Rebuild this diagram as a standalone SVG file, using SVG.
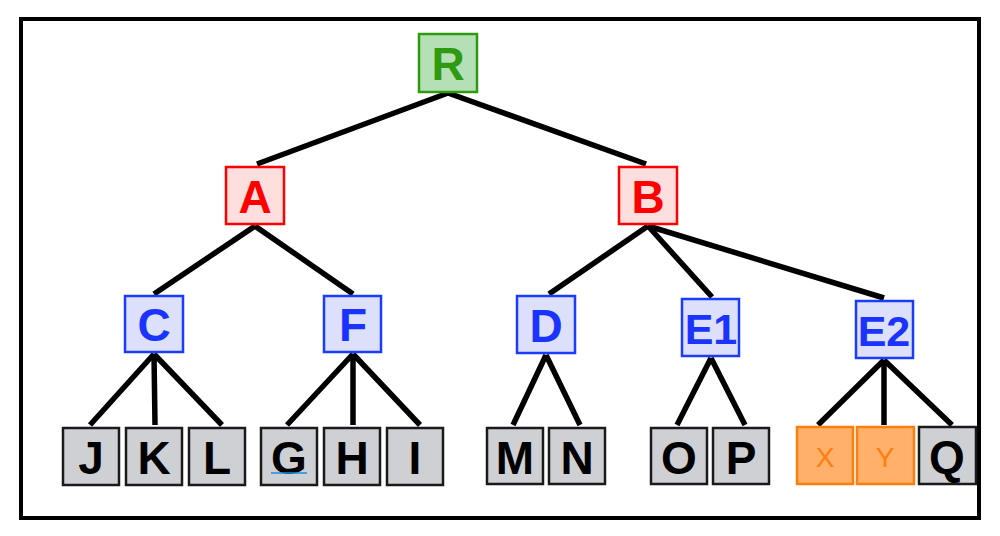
<svg xmlns="http://www.w3.org/2000/svg" width="1000" height="536" viewBox="0 0 1000 536">
<style>
.frame{fill:#fff;stroke:#000;stroke-width:4}
.edge{stroke:#000;stroke-width:5.5;stroke-linecap:butt}
text{font-family:"Liberation Sans",Arial,sans-serif;font-weight:bold;font-size:46px;text-anchor:middle;dominant-baseline:central}
.g rect{fill:#b5e0b5;stroke:#2e9a10;stroke-width:2.5}
.g text{fill:#2e9a10}
.r rect{fill:#ffdede;stroke:#ff0000;stroke-width:2.5}
.r text{fill:#ff0000}
.b rect{fill:#dde0fb;stroke:#1a3cff;stroke-width:2.5}
.b text{fill:#1a33ff}
.b text.two{font-size:43px}
.k rect{fill:#cfd0d4;stroke:#1a1a1a;stroke-width:2.5}
.k text{fill:#000}
.o rect{fill:#ffb06a;stroke:#ff7f0e;stroke-width:2.5}
.o text{fill:#ff7f0e;font-weight:normal;font-size:28px}
</style>
<rect class="frame" x="21" y="19" width="958" height="499"/>
<g id="connectors">
<line class="edge" x1="448" y1="93" x2="257" y2="164"/>
<line class="edge" x1="448" y1="93" x2="646" y2="164"/>
<line class="edge" x1="255" y1="226" x2="154" y2="294"/>
<line class="edge" x1="255" y1="226" x2="353" y2="294"/>
<line class="edge" x1="648" y1="226" x2="549" y2="294"/>
<line class="edge" x1="648" y1="226" x2="712" y2="297"/>
<line class="edge" x1="648" y1="226" x2="884" y2="298"/>
<line class="edge" x1="154" y1="354" x2="90" y2="425"/>
<line class="edge" x1="154" y1="354" x2="155" y2="425"/>
<line class="edge" x1="154" y1="354" x2="222" y2="425"/>
<line class="edge" x1="353" y1="354" x2="287" y2="425"/>
<line class="edge" x1="353" y1="354" x2="353" y2="425"/>
<line class="edge" x1="353" y1="354" x2="420" y2="425"/>
<line class="edge" x1="546" y1="355" x2="513" y2="425"/>
<line class="edge" x1="546" y1="355" x2="580" y2="425"/>
<line class="edge" x1="711" y1="358" x2="677" y2="425"/>
<line class="edge" x1="711" y1="358" x2="745" y2="425"/>
<line class="edge" x1="884" y1="360" x2="818" y2="425"/>
<line class="edge" x1="884" y1="360" x2="884" y2="425"/>
<line class="edge" x1="884" y1="360" x2="952" y2="425"/>
</g>
<g id="R" class="g"><rect x="419" y="34" width="58" height="58"/><text x="448" y="64">R</text></g>
<g id="A" class="r"><rect x="226" y="167" width="58" height="57"/><text x="255" y="197">A</text></g>
<g id="B" class="r"><rect x="619" y="167" width="58" height="57"/><text x="648" y="197">B</text></g>
<g id="C" class="b"><rect x="125" y="296" width="58" height="56"/><text x="154" y="325">C</text></g>
<g id="F" class="b"><rect x="324" y="296" width="57" height="56"/><text x="353" y="325">F</text></g>
<g id="D" class="b"><rect x="517" y="296" width="58" height="57"/><text x="546" y="326">D</text></g>
<g id="E1" class="b"><rect x="682" y="299" width="57" height="57"/><text class="two" x="711" y="329">E1</text></g>
<g id="E2" class="b"><rect x="856" y="301" width="57" height="57"/><text class="two" x="884" y="331">E2</text></g>
<g id="J" class="k"><rect x="63" y="428" width="56" height="57"/><text x="91" y="458">J</text></g>
<g id="K" class="k"><rect x="126" y="428" width="56" height="57"/><text x="154" y="458">K</text></g>
<g id="L" class="k"><rect x="189" y="428" width="56" height="57"/><text x="217" y="458">L</text></g>
<g id="G" class="k"><rect x="261" y="428" width="56" height="57"/><text x="289" y="458">G</text><line x1="271" y1="473" x2="307" y2="473" stroke="#1a8fe0" stroke-width="1.5"/></g>
<g id="H" class="k"><rect x="324" y="428" width="56" height="57"/><text x="352" y="458">H</text></g>
<g id="I" class="k"><rect x="387" y="428" width="56" height="57"/><text x="415" y="458">I</text></g>
<g id="M" class="k"><rect x="487" y="428" width="56" height="56"/><text x="515" y="458">M</text></g>
<g id="N" class="k"><rect x="549" y="428" width="56" height="56"/><text x="577" y="458">N</text></g>
<g id="O" class="k"><rect x="651" y="428" width="56" height="56"/><text x="679" y="458">O</text></g>
<g id="P" class="k"><rect x="713" y="428" width="56" height="56"/><text x="741" y="458">P</text></g>
<g id="X" class="o"><rect x="797" y="427" width="56" height="57"/><text x="825" y="457">X</text></g>
<g id="Y" class="o"><rect x="857" y="427" width="57" height="57"/><text x="885" y="457">Y</text></g>
<g id="Q" class="k"><rect x="919" y="427" width="57" height="57"/><text x="947" y="457">Q</text></g>
</svg>
